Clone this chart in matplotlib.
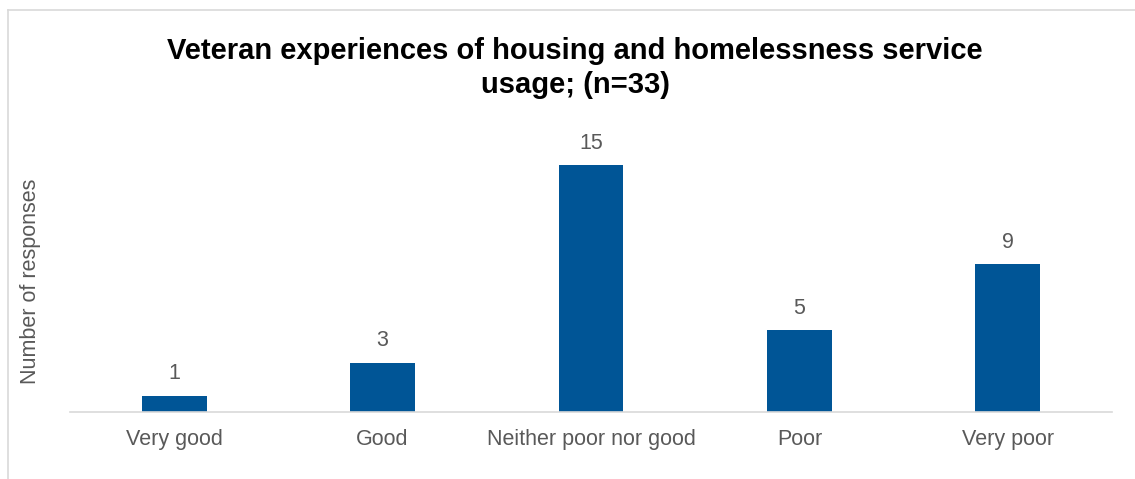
import matplotlib.pyplot as plt
from matplotlib.lines import Line2D

categories = ["Very good", "Good", "Neither poor nor good", "Poor", "Very poor"]
responses = [1, 3, 15, 5, 9]

plt.rcParams["font.family"] = ["Liberation Sans", "DejaVu Sans"]

fig = plt.figure(figsize=(11.35, 4.79), dpi=100)
ax = fig.add_axes([70 / 1135, 1 - 412 / 479, 1042 / 1135, 285 / 479])

x = range(len(categories))
bars = ax.bar(x, responses, width=0.31, color="#005596")
for b, v in zip(bars, responses):
    ax.annotate(str(v), (b.get_x() + b.get_width() / 2, v), xytext=(0, 8),
                textcoords="offset points", ha="center", va="bottom",
                fontsize=15.5, color="#595959")

ax.set_xlim(-0.5, len(categories) - 0.5)
ax.set_ylim(0, 17.3)
ax.set_xticks(list(x))
ax.set_xticklabels(categories, fontsize=15.5, color="#595959")
ax.tick_params(axis="x", length=0, pad=12)
ax.set_yticks([])
for s in ["top", "right", "left"]:
    ax.spines[s].set_visible(False)
ax.spines["bottom"].set_color("#d9d9d9")
ax.spines["bottom"].set_linewidth(1.2)

fig.text(31 / 1135, 1 - 281 / 479, "Number of responses", rotation=90,
         ha="center", va="center", fontsize=15.5, color="#595959")
fig.text(575 / 1135, 1 - 68 / 479,
         "Veteran experiences of housing and homelessness service\nusage; (n=33)",
         ha="center", va="center", fontsize=21, fontweight="bold",
         color="black", linespacing=1.3)

# outer chart frame (top and left edges)
fig.add_artist(Line2D([8 / 1135, 8 / 1135], [0, 1 - 10 / 479],
                      transform=fig.transFigure, color="#d9d9d9", lw=1.2))
fig.add_artist(Line2D([8 / 1135, 1], [1 - 10 / 479, 1 - 10 / 479],
                      transform=fig.transFigure, color="#d9d9d9", lw=1.2))

fig.savefig("out.png", dpi=100)
